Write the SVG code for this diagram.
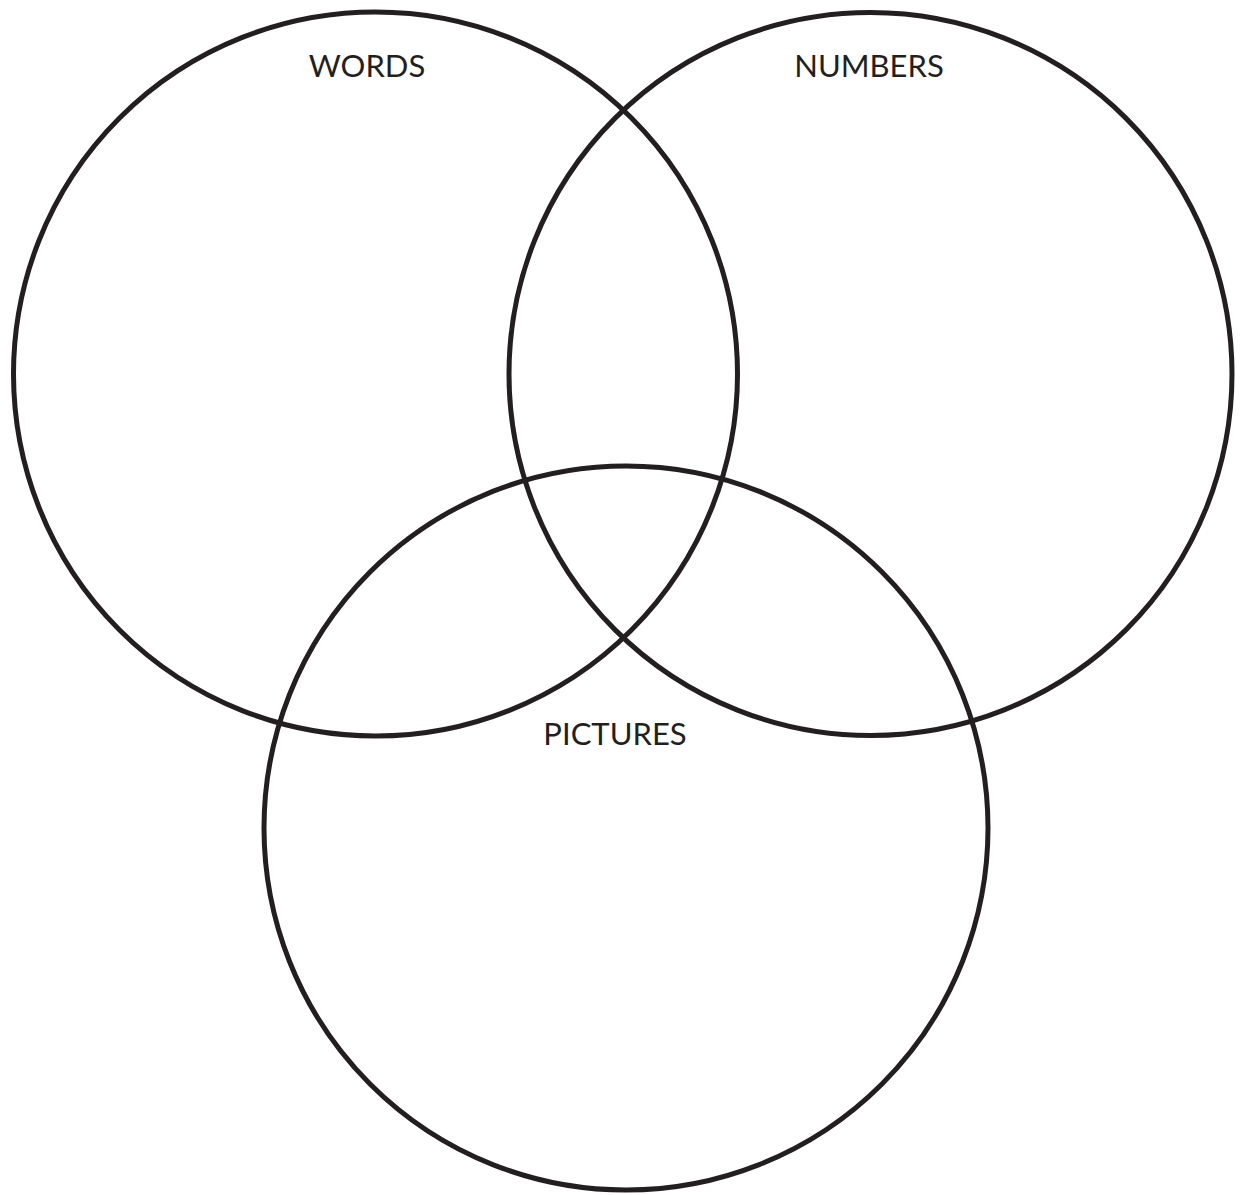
<svg xmlns="http://www.w3.org/2000/svg" width="1240" height="1195" viewBox="0 0 1240 1195">
<style>
.c{fill:none;stroke:#231f20;stroke-width:5}
.t{font-family:"Lato","Open Sans",sans-serif;font-size:31px;fill:#231f20;text-anchor:middle}
</style>
<rect width="1240" height="1195" fill="#fff"/>
<g id="words"><circle class="c" cx="375.5" cy="374" r="362"/><text class="t" x="367" y="77">WORDS</text></g>
<g id="numbers"><circle class="c" cx="870.5" cy="374" r="361.5"/><text class="t" x="869" y="77">NUMBERS</text></g>
<g id="pictures"><circle class="c" cx="626" cy="828" r="362"/><text class="t" x="615" y="745">PICTURES</text></g>
<g id="connectors"></g>
</svg>
